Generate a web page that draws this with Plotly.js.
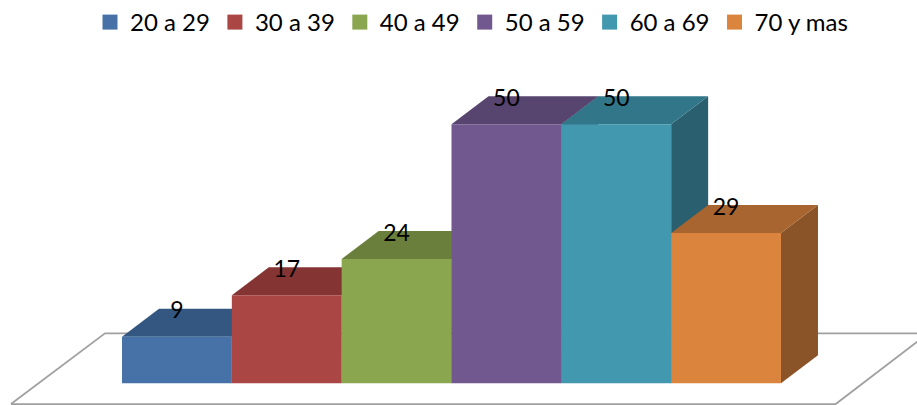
<!DOCTYPE html>
<html>
<head>
<meta charset="utf-8">
<script src="https://cdn.plot.ly/plotly-3.0.1.min.js"></script>
<style>html,body{margin:0;padding:0;background:#fff}#chart{width:917px;height:405px}</style>
</head>
<body>
<div id="chart"></div>
<script>
// Age groups and their counts
const categories = ['20 a 29', '30 a 39', '40 a 49', '50 a 59', '60 a 69', '70 y mas'];
const values = [9, 17, 24, 50, 50, 29];
const frontColors = ['#4672A8', '#AA4643', '#8AA64E', '#71588F', '#4198AF', '#DB843D'];
const topColors = ['#335780', '#843533', '#6A7F3B', '#57446F', '#327689', '#A8652F'];
const sideColors = ['#2B4A6E', '#722D2B', '#5B6D33', '#4B3A5F', '#295F6E', '#8B5428'];

// Scale of the plot area, and the oblique offset giving each column its depth
const W = 917, H = 405, pxPerX = 109.83, pxPerY = 5.18;
const originX = 122, originY = 383.3;
const depthX = 37 / pxPerX, depthY = 28 / pxPerY;
const labelDrop = 4 / pxPerY;
const xRange = [-originX / pxPerX, (W - originX) / pxPerX];
const yRange = [(originY - H) / pxPerY, originY / pxPerY];

const traces = [];

// Floor outline under the columns
const floorX = [-1.011, 6.498, 7.34, -0.155, -1.011];
const floorY = [-4, -4, 9.65, 9.65, -4];
traces.push({
  type: 'scatter', mode: 'lines', x: floorX, y: floorY, showlegend: false, hoverinfo: 'skip',
  line: {color: '#A0A0A0', width: 1.75}, cliponaxis: true
});

// Side and top faces, left to right so nearer columns cover earlier ones
categories.forEach((name, i) => {
  const v = values[i];
  traces.push({
    type: 'scatter', mode: 'lines', fill: 'toself', fillcolor: sideColors[i],
    line: {width: 0}, showlegend: false, hoverinfo: 'skip',
    x: [i + 1, i + 1 + depthX, i + 1 + depthX, i + 1, i + 1],
    y: [0, depthY, v + depthY, v, 0]
  });
  traces.push({
    type: 'scatter', mode: 'lines', fill: 'toself', fillcolor: topColors[i],
    line: {width: 0}, showlegend: false, hoverinfo: 'skip',
    x: [i, i + depthX, i + 1 + depthX, i + 1, i],
    y: [v, v + depthY, v + depthY, v, v]
  });
});

// Front faces sit on an overlaid subplot, above every side face
categories.forEach((name, i) => {
  traces.push({
    type: 'bar', name: name, x: [i + 0.5], y: [values[i]], width: 1,
    xaxis: 'x2', yaxis: 'y2', showlegend: false,
    marker: {color: frontColors[i], line: {width: 0}}
  });
});

// Legend entries with square swatches
categories.forEach((name, i) => {
  traces.push({
    type: 'scatter', mode: 'markers', name: name, x: [null], y: [null],
    marker: {symbol: 'square', size: 15, color: frontColors[i]}, hoverinfo: 'skip'
  });
});

// Value labels along the back edge of each top face
traces.push({
  type: 'scatter', mode: 'text', xaxis: 'x2', yaxis: 'y2', showlegend: false, hoverinfo: 'skip',
  x: categories.map((_, i) => i + 0.5),
  y: values.map(v => v + depthY - labelDrop),
  text: values.map(String),
  textposition: 'middle center',
  textfont: {family: 'Lato, sans-serif', size: 23, color: '#000'},
  cliponaxis: false
});

const hidden = {visible: false, fixedrange: true};
const layout = {
  width: W, height: H,
  margin: {l: 0, r: 0, t: 0, b: 0, pad: 0},
  paper_bgcolor: '#fff', plot_bgcolor: '#fff',
  barmode: 'overlay',
  xaxis: Object.assign({range: xRange, domain: [0, 1]}, hidden),
  yaxis: Object.assign({range: yRange, domain: [0, 1]}, hidden),
  xaxis2: Object.assign({range: xRange, overlaying: 'x', anchor: 'y2'}, hidden),
  yaxis2: Object.assign({range: yRange, overlaying: 'y', anchor: 'x2'}, hidden),
  legend: {
    orientation: 'h', x: 90 / W, xanchor: 'left', y: 1, yanchor: 'top',
    font: {family: 'Lato, sans-serif', size: 24, color: '#000'},
    itemwidth: 30,
    bgcolor: 'rgba(0,0,0,0)', borderwidth: 0, itemclick: false, itemdoubleclick: false
  },
  showlegend: true
};

Plotly.newPlot('chart', traces, layout, {displayModeBar: false, staticPlot: true});
</script>
</body>
</html>
